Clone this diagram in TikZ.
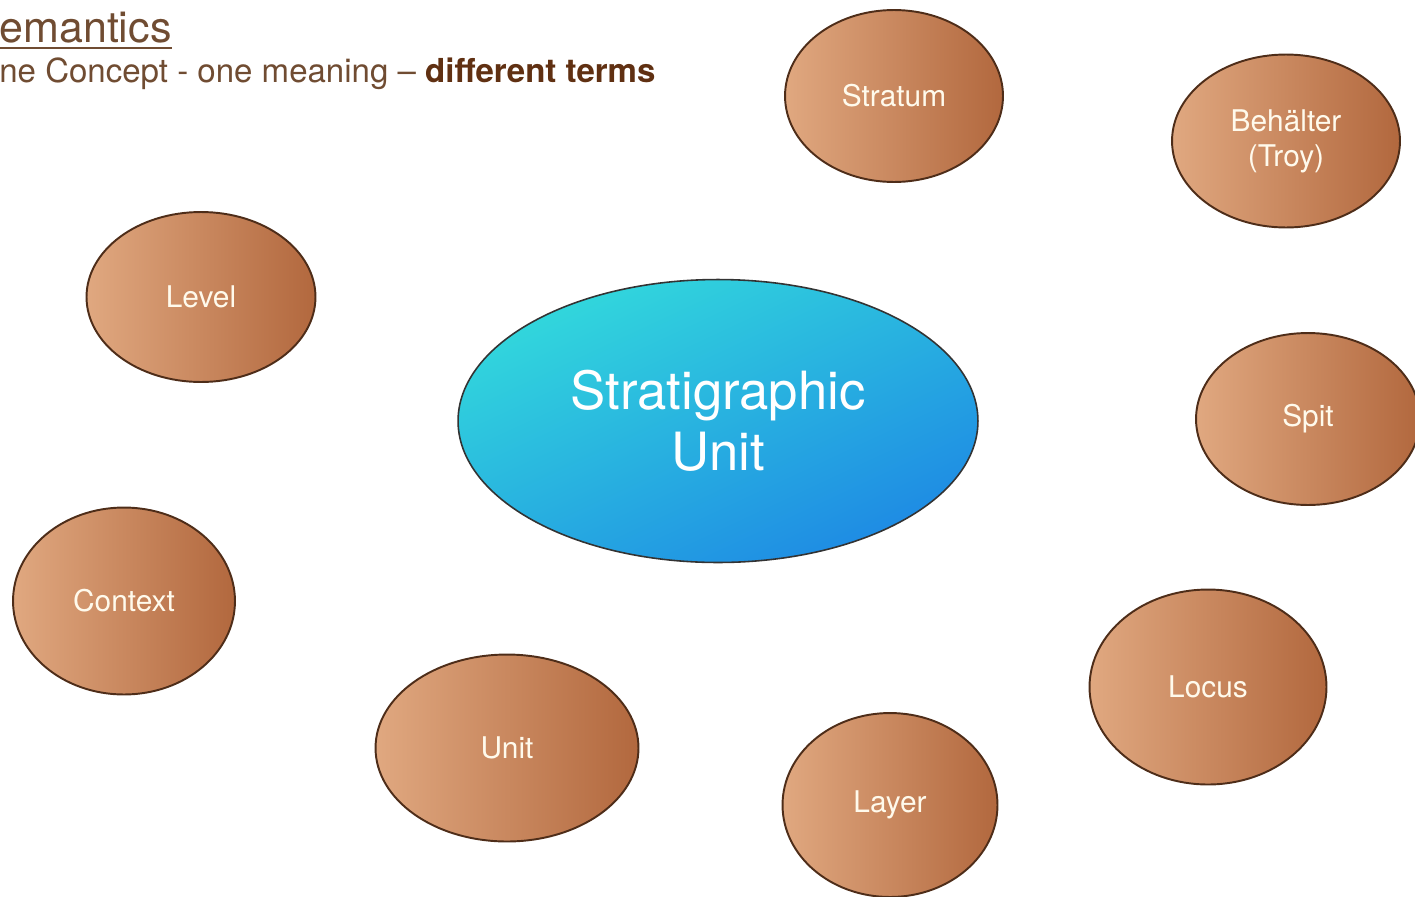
\documentclass[tikz,border=0pt]{standalone}
\usepackage{fontspec}
\setmainfont{TeX Gyre Heros}
\usetikzlibrary{shapes.geometric}

\definecolor{clayL}{RGB}{224,168,128}
\definecolor{clayR}{RGB}{178,104,62}
\definecolor{clayEdge}{RGB}{78,45,25}
\definecolor{skyTop}{RGB}{50,216,220}
\definecolor{skyBot}{RGB}{30,138,228}
\definecolor{headCol}{RGB}{112,76,50}
\definecolor{boldCol}{RGB}{96,48,18}
\definecolor{labelCol}{RGB}{255,250,236}

\tikzset{
    term/.style 2 args={ellipse, draw=clayEdge, line width=1.1pt, left color=clayL, right color=clayR,
        minimum width=#1, minimum height=#2, inner sep=0pt, text=labelCol, align=center,
        font=\fontsize{17}{20}\selectfont},
    core/.style={ellipse, draw=black!80, line width=0.9pt, top color=skyTop, bottom color=skyBot,
        shading angle=25, minimum width=10.4cm, minimum height=5.66cm, inner sep=0pt,
        text=white, align=center, font=\fontsize{30}{35}\selectfont}
}

\begin{document}
\begin{tikzpicture}[x=0.02cm, y=-0.02cm]
    \useasboundingbox (0,0) rectangle (1415,896);
    \clip (0,0) rectangle (1415,896);

    % heading
    \node[anchor=base west, inner sep=0pt, text=headCol, font=\fontsize{24.5}{28}\selectfont] (title) at (-1,42) {emantics};
    \draw[headCol, line width=0.9pt] ([yshift=-3.5pt]title.base west) -- ([yshift=-3.5pt]title.base east);
    \node[anchor=base west, inner sep=0pt, text=headCol, font=\fontsize{18.8}{22}\selectfont] (subtitle) at (-1,82)
        {ne Concept - one meaning -- \textcolor{boldCol}{\bfseries different terms}};

    % the central concept
    \node[core] (strat) at (718,421) {Stratigraphic\\Unit};

    % the different terms
    \node[term={4.36cm}{3.44cm}] (stratum) at (894,96) {Stratum};
    \node[term={4.56cm}{3.46cm}] (behaelter) at (1286,141) {Behälter\\(Troy)};
    \node[term={4.58cm}{3.40cm}] (level) at (201,297) {Level};
    \node[term={4.48cm}{3.44cm}] (spit) at (1308,419) {Spit};
    \node[term={4.44cm}{3.74cm}] (context) at (124,601) {Context};
    \node[term={4.74cm}{3.90cm}] (locus) at (1208,687) {Locus};
    \node[term={5.26cm}{3.74cm}] (unit) at (507,748) {Unit};
    \node[term={4.30cm}{3.68cm}] (layer) at (890,805) {Layer};
\end{tikzpicture}
\end{document}
